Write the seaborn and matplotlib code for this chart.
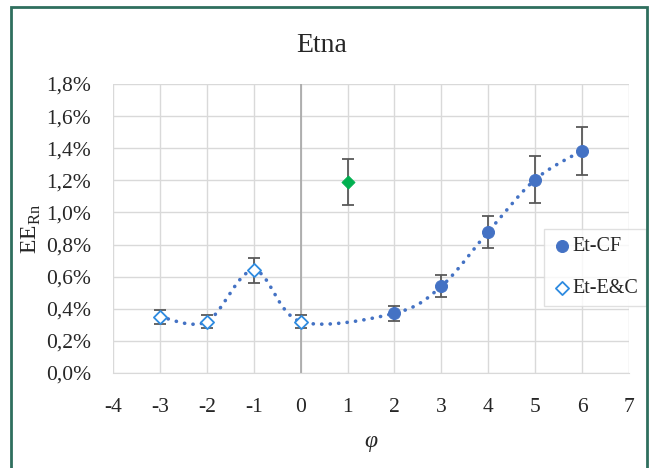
import numpy as np
import matplotlib
matplotlib.use("Agg")
from matplotlib import pyplot as plt
from matplotlib.ticker import FuncFormatter
from matplotlib.patches import Rectangle
import seaborn as sns

# values in percent
phi_ec = [-3, -2, -1, 0]
ee_ec = [0.35, 0.32, 0.64, 0.32]
err_ec = [0.045, 0.04, 0.078, 0.04]

phi_cf = [2, 3, 4, 5, 6]
ee_cf = [0.372, 0.54, 0.88, 1.205, 1.385]
err_cf = [0.047, 0.068, 0.10, 0.145, 0.15]

phi_green = [1]
ee_green = [1.19]
err_green = [0.145]

x_ticks = list(range(-4, 8))
y_ticks = [0.0, 0.2, 0.4, 0.6, 0.8, 1.0, 1.2, 1.4, 1.6, 1.8]


def smooth(xs, ys, n=40):
    # Excel-style smoothed line: Catmull-Rom segments as cubic Bezier
    p = np.column_stack([xs, ys]).astype(float)
    out = []
    for i in range(len(p) - 1):
        p0 = p[i - 1] if i > 0 else p[i]
        p1, p2 = p[i], p[i + 1]
        p3 = p[i + 2] if i + 2 < len(p) else p[i + 1]
        c1 = p1 + (p2 - p0) / 6
        c2 = p2 - (p3 - p1) / 6
        t = np.linspace(0, 1, n)[:, None]
        seg = ((1 - t) ** 3) * p1 + 3 * ((1 - t) ** 2) * t * c1 + 3 * (1 - t) * t ** 2 * c2 + t ** 3 * p2
        out.append(seg if i == 0 else seg[1:])
    return np.vstack(out)


sns.set_style("white")
plt.rcParams["font.family"] = ["Liberation Serif", "DejaVu Serif"]
plt.rcParams["mathtext.fontset"] = "custom"
plt.rcParams["mathtext.rm"] = "Liberation Serif"
plt.rcParams["axes.unicode_minus"] = False

fig = plt.figure(figsize=(6.53, 4.68), dpi=100)
ax = fig.add_axes([113 / 653, 1 - 373 / 468, (629 - 113) / 653, (373 - 84) / 468])

# smoothed dotted trend through all E&C and CF points
curve = smooth(phi_ec + phi_cf, ee_ec + ee_cf)
sns.lineplot(x=curve[:, 0], y=curve[:, 1], ax=ax, sort=False, color="#4472C4",
             lw=2.6, linestyle=(0, (0.05, 2.3)), dash_capstyle="round", zorder=3)

err_kw = dict(fmt="none", ecolor="#595959", elinewidth=1.3, capsize=4.5, capthick=1.3, zorder=4)
ax.errorbar(phi_ec, ee_ec, yerr=err_ec, **err_kw)
ax.errorbar(phi_cf, ee_cf, yerr=err_cf, **err_kw)
ax.errorbar(phi_green, ee_green, yerr=err_green, **err_kw)

sns.scatterplot(x=phi_cf, y=ee_cf, ax=ax, marker="o", s=75, color="#4472C4",
                edgecolor="#4472C4", label="Et-CF", zorder=5)
sns.scatterplot(x=phi_ec, y=ee_ec, ax=ax, marker="D", s=45, facecolor="white",
                edgecolor="#2E8BE0", linewidth=1.3, label="Et-E&C", zorder=5)
sns.scatterplot(x=phi_green, y=ee_green, ax=ax, marker="D", s=45, color="#00B050",
                edgecolor="#00B050", zorder=5)

ax.set_xlim(-4, 7)
ax.set_ylim(0, 1.8)
ax.set_xticks(x_ticks)
ax.set_yticks(y_ticks)
ax.yaxis.set_major_formatter(FuncFormatter(lambda v, _: f"{v:.1f}%".replace(".", ",")))
ax.grid(True, color="#D9D9D9", lw=1.0, zorder=0)
ax.set_axisbelow(True)
ax.axvline(0, color="#A6A6A6", lw=1.2, zorder=1)
for side, sp in ax.spines.items():
    sp.set_visible(side == "bottom")
ax.spines["bottom"].set_color("#D9D9D9")
ax.tick_params(axis="both", length=0, labelsize=15.5, colors="#262626")
ax.tick_params(axis="x", pad=18)
ax.tick_params(axis="y", pad=16)

ax.set_xlabel("φ", fontsize=17, style="italic", color="#262626", labelpad=10)
ax.set_ylabel(r"EE$_{\mathrm{Rn}}$", fontsize=17, color="#262626", labelpad=2)
fig.text(0.493, 1 - 45 / 468, "Etna", ha="center", va="center", fontsize=20, color="#262626")

leg = ax.legend(loc="upper left", bbox_to_anchor=(544 / 653, 1 - 229 / 468),
                bbox_transform=fig.transFigure, fontsize=14.5, frameon=True,
                fancybox=False, edgecolor="#D9D9D9", borderaxespad=0,
                handletextpad=0.0, handlelength=1.0, labelspacing=1.15, borderpad=0.4)
leg.get_frame().set_linewidth(1.0)

# outer green frame
fig.patches.append(Rectangle((11 / 653, -0.05), (647 - 11) / 653, 1.05 - 7 / 468,
                             transform=fig.transFigure, fill=False,
                             edgecolor="#2F6F5E", lw=2.0))

fig.savefig("out.png", dpi=100)
